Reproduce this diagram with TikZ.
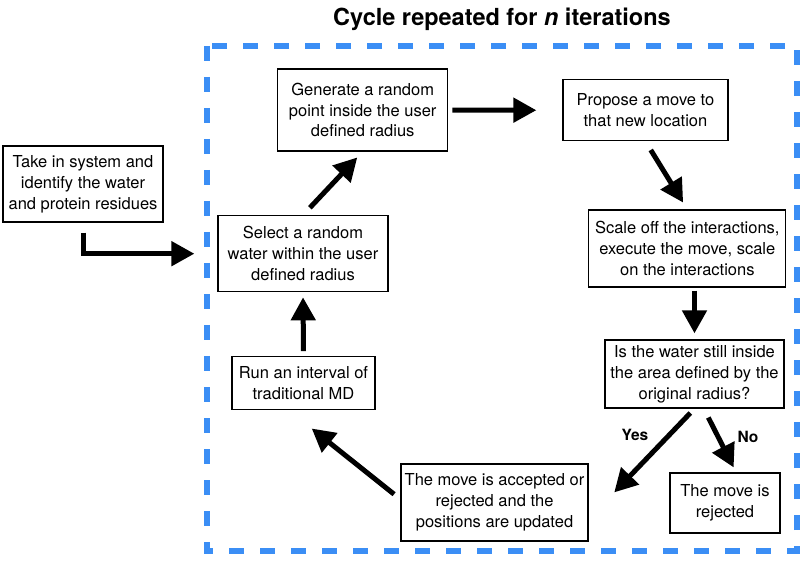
\documentclass[tikz,border=0pt]{standalone}
\usepackage{fontspec}
\setmainfont{TeX Gyre Heros}
\usetikzlibrary{positioning, arrows.meta}
\definecolor{cycleblue}{RGB}{59,142,245}

\begin{document}
\begin{tikzpicture}[
        x = 1pt,
        y = -1pt,
        -{Triangle[length = 23pt, width = 24pt]},
        every node/.style = {font = \fontsize{16.5}{20.8}\selectfont, align = center},
        stage/.style = {rectangle, draw, line width = 1.3pt, inner sep = 0pt},
        answer/.style = {draw = none, font = \fontsize{15.5}{18}\selectfont\bfseries},
        heading/.style = {draw = none, font = \fontsize{23.5}{28}\selectfont\bfseries},
        flow/.style = {line width = 5pt, line join = miter}]

      \useasboundingbox (0,0) rectangle (804,564);

      %heading
      \node[heading] (title) at (502,19) {Cycle repeated for \textit{n} iterations};

      %input
      \node[stage, minimum width = 160pt, minimum height = 76pt] (take) at (83,184)
        {Take in system and\\identify the water\\and protein residues};

      %left column of the cycle
      \node[stage, minimum width = 170pt, minimum height = 76pt] (select) at (303,253.7)
        {Select a random\\water within the user\\defined radius};
      \node[stage, minimum width = 143pt, minimum height = 53pt] (run) at (303.5,383.3)
        {Run an interval of\\traditional MD};

      %top row
      \node[stage, minimum width = 170pt, minimum height = 82pt] (generate) at (362.7,110)
        {Generate a random\\point inside the user\\defined radius};
      \node[stage, minimum width = 165pt, minimum height = 61pt] (propose) at (645.5,110.3)
        {Propose a move to\\that new location};

      %right column
      \node[stage, minimum width = 197pt, minimum height = 77pt] (scale) at (687.3,248.5)
        {Scale off the interactions,\\execute the move, scale\\on the interactions};
      \node[stage, minimum width = 179pt, minimum height = 68pt] (inside) at (694.5,374)
        {Is the water still inside\\the area defined by the\\original radius?};

      %outcomes
      \node[stage, minimum width = 110pt, minimum height = 60pt] (rejected) at (725,503)
        {The move is\\rejected};
      \node[stage, minimum width = 187pt, minimum height = 77pt] (accepted) at (494.5,502.5)
        {The move is accepted or\\rejected and the\\positions are updated};

      %answers
      \node[answer] (yes) at (635,435) {Yes};
      \node[answer] (no) at (748,437) {No};

      \begin{scope}[-]
      %loop frame
        \draw[cycleblue, line width = 6pt, dash pattern = on 15pt off 16pt]
        (207,46) rectangle (797,551);
      \end{scope}

      \begin{scope}
      %entry into the loop
        \draw[flow, shorten < = 10pt, shorten > = 23pt] (take.south) |- (select.west);
      %cycle edges
        \path[flow]
        (select.north) edge[shorten < = 10pt, shorten > = 8pt] (generate.south)
        (generate.east) edge[shorten < = 4pt, shorten > = 26pt] (propose.west)
        (propose.south) edge[shorten < = 10pt, shorten > = 8pt] (scale.north)
        (inside.north |- scale.south) edge[shorten < = 3pt, shorten > = 6pt] (inside.north)
        (inside.south) edge[shorten < = 6pt, shorten > = 37pt] (accepted.-10)
        (inside.-75) edge[shorten < = 10pt, shorten > = 5.5pt] (rejected.70)
        (accepted.178) edge[shorten < = 8pt, shorten > = 29pt] (run.242)
        (run.north) edge[shorten < = 5pt, shorten > = 5pt] (select.south)
        ;
      \end{scope}
    \end{tikzpicture}
\end{document}
